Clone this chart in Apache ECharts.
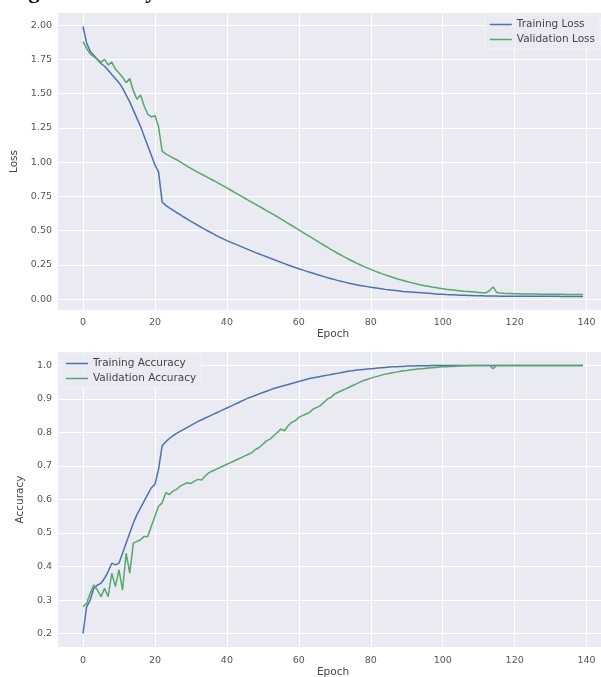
<!DOCTYPE html>
<html><head><meta charset="utf-8">
<script src="https://cdn.jsdelivr.net/npm/echarts@6/dist/echarts.min.js"></script>
<style>html,body{margin:0;padding:0;background:#fff}#c{width:601px;height:677px}</style>
</head><body><div id="c"></div>
<script>
const titleText = 'Fig. 4 Accuracy';
const xTicks = [0, 20, 40, 60, 80, 100, 120, 140];
const lossTicks = [0, 0.25, 0.5, 0.75, 1.0, 1.25, 1.5, 1.75, 2.0];
const accTicks = [0.2, 0.3, 0.4, 0.5, 0.6, 0.7, 0.8, 0.9, 1.0];

const trainLoss = [
1.99,1.87,1.81,1.78,1.75,1.72,1.70,1.67,1.64,1.61,
1.58,1.54,1.49,1.44,1.38,1.32,1.26,1.19,1.12,1.05,
0.98,0.93,0.71,0.685,0.667,0.650,0.633,0.617,0.600,0.584,
0.568,0.553,0.538,0.523,0.508,0.494,0.480,0.466,0.452,0.440,
0.428,0.417,0.406,0.395,0.384,0.373,0.362,0.351,0.340,0.330,
0.320,0.310,0.300,0.290,0.280,0.270,0.260,0.250,0.241,0.232,
0.223,0.214,0.205,0.197,0.189,0.181,0.173,0.165,0.157,0.150,
0.143,0.136,0.129,0.123,0.117,0.111,0.106,0.101,0.096,0.092,
0.088,0.084,0.080,0.076,0.072,0.069,0.066,0.063,0.060,0.057,
0.055,0.053,0.051,0.049,0.047,0.045,0.043,0.041,0.039,0.037,
0.036,0.034,0.033,0.032,0.031,0.030,0.029,0.028,0.027,0.026,
0.025,0.025,0.024,0.024,0.023,0.023,0.022,0.022,0.022,0.022,
0.022,0.021,0.021,0.021,0.021,0.021,0.021,0.021,0.021,0.021,
0.021,0.021,0.021,0.020,0.020,0.020,0.020,0.020,0.020,0.020];

const valLoss = [
1.88,1.83,1.79,1.77,1.75,1.73,1.75,1.71,1.73,1.68,
1.65,1.62,1.58,1.61,1.52,1.46,1.49,1.41,1.35,1.33,
1.34,1.26,1.08,1.060,1.046,1.032,1.018,1.002,0.986,0.970,
0.955,0.940,0.926,0.912,0.898,0.884,0.870,0.856,0.842,0.827,
0.812,0.797,0.782,0.767,0.752,0.737,0.722,0.707,0.692,0.677,
0.662,0.647,0.632,0.617,0.602,0.586,0.570,0.554,0.538,0.522,
0.506,0.490,0.474,0.458,0.442,0.426,0.410,0.394,0.378,0.362,
0.347,0.332,0.318,0.304,0.290,0.277,0.264,0.252,0.240,0.229,
0.218,0.207,0.197,0.187,0.178,0.169,0.160,0.152,0.144,0.137,
0.130,0.123,0.116,0.110,0.104,0.099,0.094,0.089,0.085,0.081,
0.077,0.073,0.070,0.067,0.064,0.061,0.058,0.056,0.054,0.052,
0.050,0.048,0.047,0.062,0.090,0.050,0.045,0.043,0.042,0.041,
0.040,0.040,0.039,0.039,0.038,0.038,0.038,0.037,0.037,0.037,
0.036,0.036,0.036,0.036,0.035,0.035,0.035,0.035,0.035,0.035];

const trainAcc = [
0.20,0.28,0.30,0.335,0.345,0.35,0.365,0.385,0.41,0.405,
0.41,0.44,0.47,0.50,0.53,0.555,0.575,0.595,0.615,0.635,
0.645,0.69,0.76,0.772,0.782,0.790,0.797,0.803,0.809,0.815,
0.821,0.827,0.833,0.838,0.843,0.848,0.853,0.858,0.863,0.868,
0.873,0.878,0.883,0.888,0.893,0.898,0.903,0.907,0.911,0.915,
0.919,0.923,0.927,0.931,0.934,0.937,0.940,0.943,0.946,0.949,
0.952,0.955,0.958,0.961,0.963,0.965,0.967,0.969,0.971,0.973,
0.975,0.977,0.979,0.981,0.983,0.984,0.986,0.987,0.988,0.989,
0.990,0.991,0.992,0.993,0.994,0.995,0.996,0.996,0.997,0.997,
0.998,0.998,0.998,0.999,0.999,0.999,0.999,1.0,1.0,1.0,
1.0,1.0,1.0,1.0,1.0,1.0,1.0,1.0,1.0,1.0,
1.0,1.0,1.0,1.0,1.0,1.0,1.0,1.0,1.0,1.0,
1.0,1.0,1.0,1.0,1.0,1.0,1.0,1.0,1.0,1.0,
1.0,1.0,1.0,1.0,1.0,1.0,1.0,1.0,1.0,1.0];

const valAcc = [
0.28,0.29,0.32,0.345,0.33,0.31,0.335,0.31,0.38,0.34,
0.39,0.33,0.44,0.38,0.47,0.475,0.48,0.49,0.49,0.52,
0.55,0.58,0.59,0.62,0.615,0.625,0.63,0.64,0.645,0.65,
0.648,0.655,0.66,0.658,0.67,0.68,0.685,0.69,0.695,0.70,
0.705,0.71,0.715,0.72,0.725,0.73,0.735,0.74,0.75,0.755,
0.765,0.775,0.78,0.79,0.80,0.81,0.805,0.82,0.83,0.835,
0.845,0.85,0.855,0.86,0.87,0.875,0.88,0.89,0.90,0.905,
0.915,0.92,0.925,0.93,0.935,0.94,0.945,0.95,0.955,0.958,
0.962,0.965,0.968,0.971,0.974,0.976,0.978,0.980,0.982,0.984,
0.985,0.987,0.988,0.989,0.990,0.991,0.992,0.993,0.994,0.995,
0.996,0.996,0.997,0.997,0.998,0.998,0.999,0.999,1.0,1.0,
1.0,1.0,1.0,1.0,0.99,1.0,1.0,1.0,1.0,1.0,
1.0,1.0,1.0,1.0,1.0,1.0,1.0,1.0,1.0,1.0,
1.0,1.0,1.0,1.0,1.0,1.0,1.0,1.0,1.0,1.0];

const epochs = trainLoss.map((_, i) => i);
const pairs = arr => arr.map((v, i) => [epochs[i], v]);

const BLUE = '#4C72B0', GREEN = '#55A868', BG = '#EAEAF2';
const tickFont = {fontFamily: 'DejaVu Sans', fontSize: 9.5, color: '#555'};
const nameFont = {fontFamily: 'DejaVu Sans', fontSize: 10.5, color: '#444'};
const padMin = v => v.min - 0.05 * (v.max - v.min);
const padMax = v => v.max + 0.05 * (v.max - v.min);

function xAxisCfg(gi) {
  return {
    type: 'value', gridIndex: gi, min: padMin, max: padMax,
    name: 'Epoch', nameLocation: 'middle', nameGap: gi === 0 ? 18 : 20, nameTextStyle: nameFont,
    axisLine: {show: false},
    axisTick: {show: false, customValues: xTicks},
    axisLabel: Object.assign({customValues: xTicks, margin: gi === 0 ? 8 : 9}, tickFont),
    splitLine: {show: true, lineStyle: {color: '#fff', width: 1}}
  };
}
function yAxisCfg(gi, name, ticks, dec) {
  return {
    type: 'value', gridIndex: gi, min: padMin, max: padMax,
    name: name, nameLocation: 'middle', nameGap: 30, nameTextStyle: nameFont,
    axisLine: {show: false},
    axisTick: {show: false, customValues: ticks},
    axisLabel: Object.assign({customValues: ticks, margin: 6, formatter: v => v.toFixed(dec)}, tickFont),
    splitLine: {show: true, lineStyle: {color: '#fff', width: 1}}
  };
}
function lineSeries(name, data, color, xi, yi) {
  return {
    type: 'line', name: name, data: pairs(data), xAxisIndex: xi, yAxisIndex: yi,
    showSymbol: false, symbol: 'none', clip: false,
    lineStyle: {color: color, width: 1.5}, itemStyle: {color: color}
  };
}
const legendBase = {
  orient: 'vertical', icon: 'rect', itemWidth: 22, itemHeight: 1.5, itemGap: 4,
  textStyle: {fontFamily: 'DejaVu Sans', fontSize: 10.5, color: '#444'},
  backgroundColor: 'rgba(234,234,242,0.8)', borderColor: '#f3f3f7', borderWidth: 1, borderRadius: 3,
  padding: [4, 5, 4, 5]
};

const chart = echarts.init(document.getElementById('c'), null, {renderer: 'canvas'});
chart.setOption({
  backgroundColor: '#fff',
  animation: false,
  graphic: [{type: 'text', left: 9, top: -19, style: {text: titleText, font: 'bold 22px "Liberation Serif"', fill: '#000'}}],
  grid: [
    {left: 58, width: 550, top: 13, height: 297, outerBoundsMode: 'none', containLabel: false, show: true, backgroundColor: BG, borderWidth: 0},
    {left: 58, width: 550, top: 352, height: 295, outerBoundsMode: 'none', containLabel: false, show: true, backgroundColor: BG, borderWidth: 0}
  ],
  xAxis: [xAxisCfg(0), xAxisCfg(1)],
  yAxis: [yAxisCfg(0, 'Loss', lossTicks, 2), yAxisCfg(1, 'Accuracy', accTicks, 1)],
  legend: [
    Object.assign({}, legendBase, {data: ['Training Loss', 'Validation Loss'], right: 1, top: 15}),
    Object.assign({}, legendBase, {data: ['Training Accuracy', 'Validation Accuracy'], left: 61, top: 354})
  ],
  series: [
    lineSeries('Training Loss', trainLoss, BLUE, 0, 0),
    lineSeries('Validation Loss', valLoss, GREEN, 0, 0),
    lineSeries('Training Accuracy', trainAcc, BLUE, 1, 1),
    lineSeries('Validation Accuracy', valAcc, GREEN, 1, 1)
  ]
});
</script></body></html>
